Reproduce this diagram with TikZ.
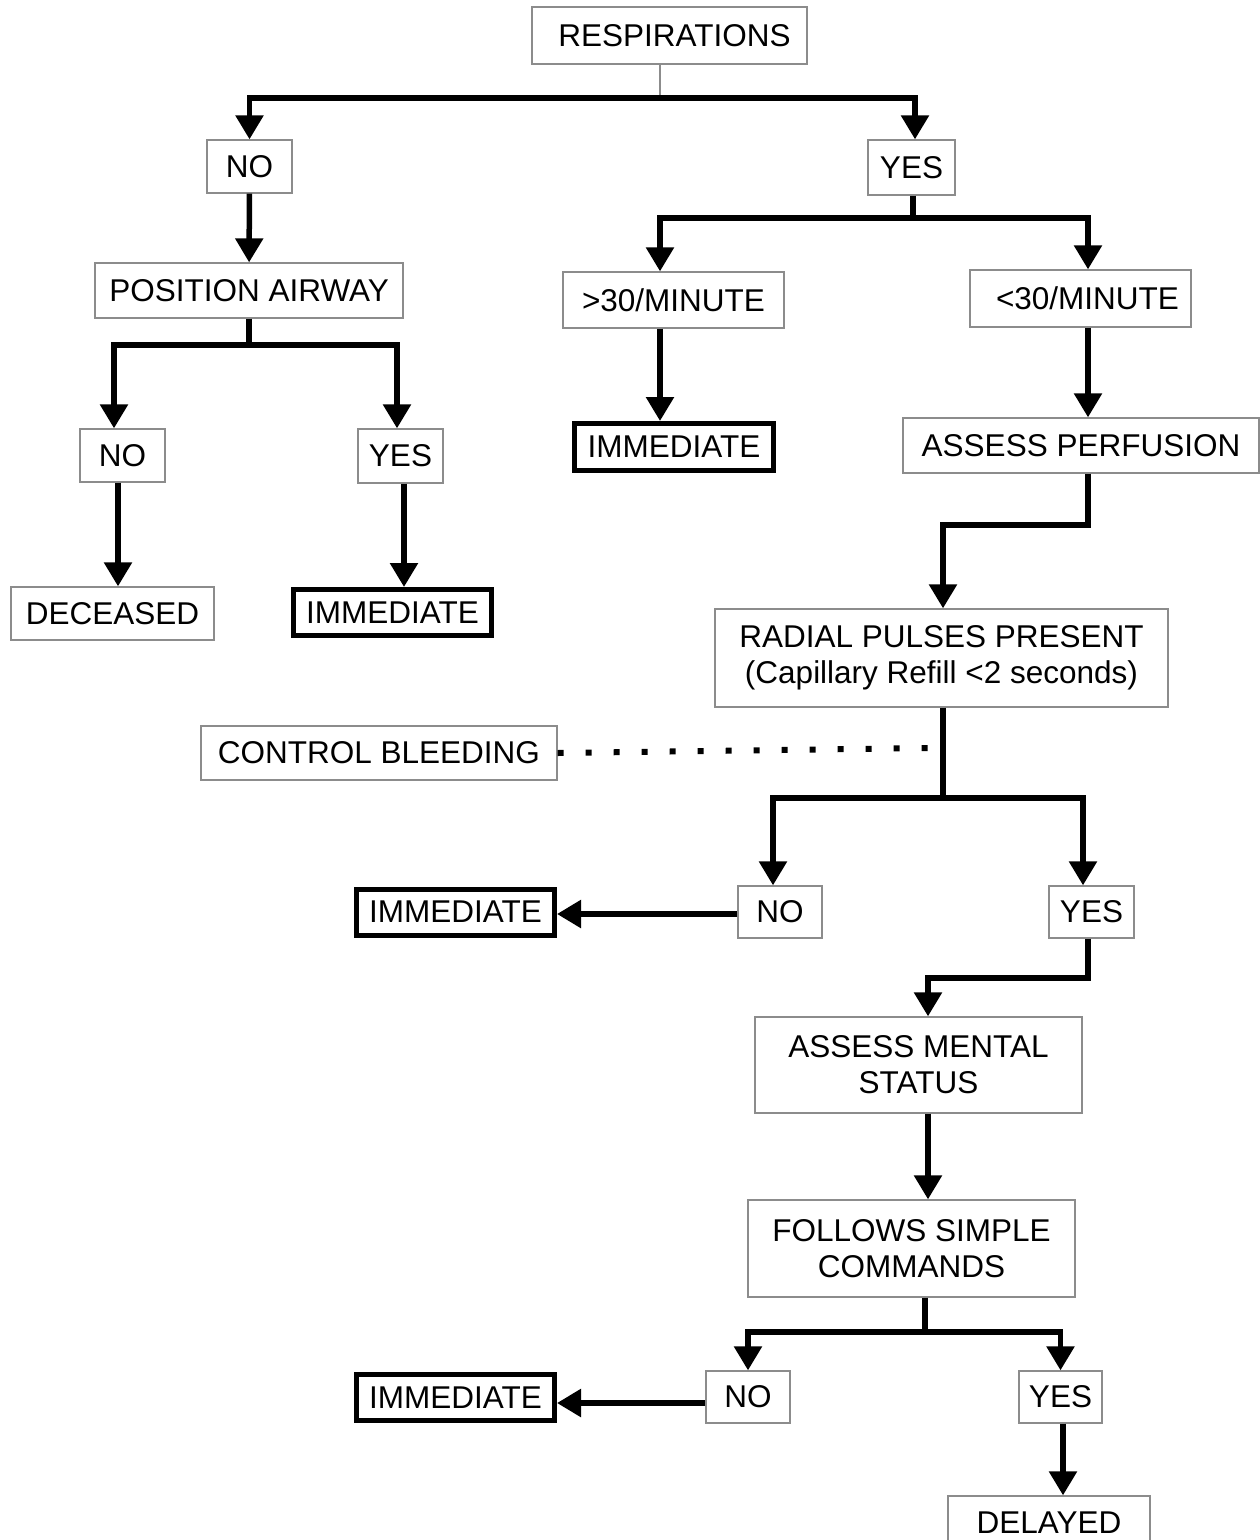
\documentclass[tikz,border=0pt]{standalone}
\usepackage{fontspec}
\setmainfont{Liberation Sans}
\usetikzlibrary{arrows.meta}
\begin{document}
\begin{tikzpicture}[x=1pt,y=-1pt,
  box/.style={draw=black!45,line width=1.3pt,inner sep=0pt,align=center,font=\fontsize{31.5}{36}\selectfont},
  endbox/.style={box,draw=black,line width=5pt},
  conn/.style={line width=5.5pt,line join=miter},
  arr/.style={conn,-{Triangle[width=27pt,length=24pt]}},
  dotline/.style={line width=6pt,dash pattern=on 6pt off 22pt},
  gline/.style={draw=black!45,line width=1.5pt}]
\useasboundingbox (0,0) rectangle (1260,1540);
\clip (0,0) rectangle (1260,1540);
% nodes
\node[box,minimum width=275pt,minimum height=57pt] (resp) at (669.5,35.5) {\hspace{10pt}RESPIRATIONS};
\node[box,minimum width=85pt,minimum height=53pt] (no1) at (249.5,166.5) {NO};
\node[box,minimum width=87pt,minimum height=55pt] (yes1) at (911.5,167.5) {YES};
\node[box,minimum width=308pt,minimum height=55pt] (pa) at (249,290.5) {POSITION AIRWAY};
\node[box,minimum width=85pt,minimum height=53pt] (no2) at (122.5,455.5) {NO};
\node[box,minimum width=85pt,minimum height=54pt] (yes2) at (400.5,456) {YES};
\node[box,minimum width=203pt,minimum height=53pt] (dec) at (112.5,613.5) {DECEASED};
\node[endbox,minimum width=198pt,minimum height=46pt] (imm1) at (392.5,612.5) {IMMEDIATE};
\node[box,minimum width=221pt,minimum height=56pt] (gt30) at (673.5,300) {>30/MINUTE};
\node[box,minimum width=221pt,minimum height=57pt] (lt30) at (1080.5,298.5) {\hspace{14pt}<30/MINUTE};
\node[endbox,minimum width=199pt,minimum height=47pt] (imm2) at (674,447) {IMMEDIATE};
\node[box,minimum width=356pt,minimum height=55pt] (ap) at (1081,445.5) {ASSESS PERFUSION};
\node[box,minimum width=453pt,minimum height=98pt] (rad) at (941.5,658) {RADIAL PULSES PRESENT\\(Capillary Refill <2 seconds)};
\node[box,minimum width=356pt,minimum height=54pt] (cb) at (379,753) {CONTROL BLEEDING};
\node[box,minimum width=84pt,minimum height=52pt] (no3) at (780,912) {NO};
\node[endbox,minimum width=198pt,minimum height=46pt] (imm3) at (455.5,912) {IMMEDIATE};
\node[box,minimum width=85pt,minimum height=52pt] (yes3) at (1091.5,912) {YES};
\node[box,minimum width=327pt,minimum height=96pt] (ams) at (918.5,1065) {ASSESS MENTAL\\STATUS};
\node[box,minimum width=327pt,minimum height=97pt] (fsc) at (911.5,1248.5) {FOLLOWS SIMPLE\\COMMANDS};
\node[box,minimum width=84pt,minimum height=52pt] (no4) at (748,1397) {NO};
\node[endbox,minimum width=198pt,minimum height=46pt] (imm4) at (455.5,1397.5) {IMMEDIATE};
\node[box,minimum width=83pt,minimum height=52pt] (yes4) at (1060.5,1397) {YES};
\node[box,minimum width=202pt,minimum height=54pt] (del) at (1049,1523) {DELAYED};
% junction coordinates
\coordinate (b1) at (660,98);
\coordinate (b2) at (249,345);
\coordinate (b3) at (913,218);
\coordinate (b4) at (943,798);
\coordinate (b5) at (925,1332);
\coordinate (c1) at (1088,525);
\coordinate (c2) at (1088,978);
\coordinate (dotend) at (930,748);
% connectors
\draw[gline] (resp.south -| b1) -- (b1);
\draw[arr] (b1) -| (no1.north);
\draw[arr] (b1) -| ([xshift=3.5pt]yes1.north);
\draw[arr] (no1) -- (pa);
\draw[conn] (pa.south) -- (b2);
\draw[arr] (b2) -| ([xshift=-8.5pt]no2.north);
\draw[arr] (b2) -| ([xshift=-3.5pt]yes2.north);
\draw[arr] ([xshift=-4.5pt]no2.south) -- ([xshift=-4.5pt]no2.south |- dec.north);
\draw[arr] ([xshift=3.5pt]yes2.south) -- ([xshift=3.5pt]yes2.south |- imm1.north);
\draw[conn] (yes1.south -| b3) -- (b3);
\draw[arr] (b3) -| ([xshift=-13.5pt]gt30.north);
\draw[arr] (b3) -| ([xshift=7.5pt]lt30.north);
\draw[arr] ([xshift=-13.5pt]gt30.south) -- ([xshift=-13.5pt]gt30.south |- imm2.north);
\draw[arr] ([xshift=7.5pt]lt30.south) -- ([xshift=7.5pt]lt30.south |- ap.north);
\draw[arr] (ap.south -| c1) -- (c1) -| ([xshift=1.5pt]rad.north);
\draw[conn] (rad.south -| b4) -- (b4);
\draw[arr] (b4) -| ([xshift=-7pt]no3.north);
\draw[arr] (b4) -| ([xshift=-8.5pt]yes3.north);
\draw[dotline] (cb.east) -- (dotend);
\draw[arr] ([yshift=-2pt]no3.west) -- ([yshift=-2pt]no3.west -| imm3.east);
\draw[arr] (yes3.south -| c2) -- (c2) -| ([xshift=9.5pt]ams.north);
\draw[arr] ([xshift=9.5pt]ams.south) -- ([xshift=9.5pt]ams.south |- fsc.north);
\draw[conn] (fsc.south -| b5) -- (b5);
\draw[arr] (b5) -| (no4.north);
\draw[arr] (b5) -| (yes4.north);
\draw[arr] ([yshift=-6pt]no4.west) -- ([yshift=-6pt]no4.west -| imm4.east);
\draw[arr] ([xshift=2.5pt]yes4.south) -- ([xshift=2.5pt]yes4.south |- del.north);
\end{tikzpicture}
\end{document}
